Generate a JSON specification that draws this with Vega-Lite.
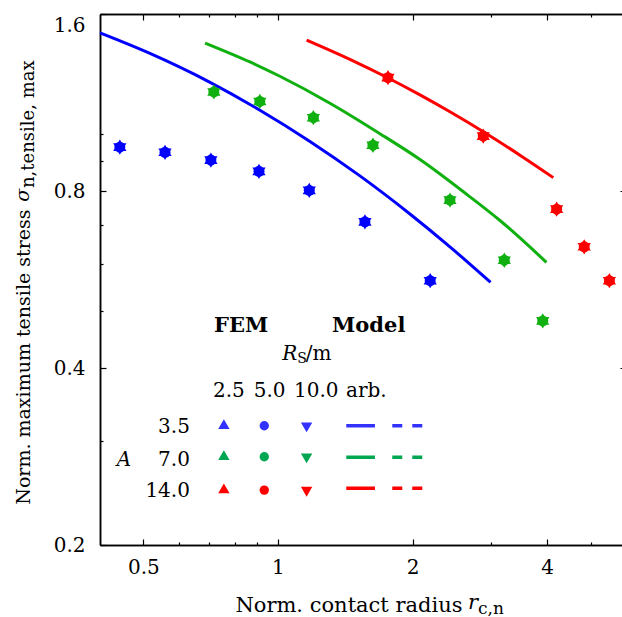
{
  "$schema": "https://vega.github.io/schema/vega-lite/v6.json",
  "width": 522,
  "height": 531,
  "autosize": {"type": "none"},
  "padding": {"left": 100, "top": 14, "right": 0, "bottom": 72},
  "background": "white",
  "config": {
    "font": "DejaVu Serif",
    "view": {"stroke": null},
    "axis": {
      "grid": false,
      "domainColor": "black",
      "domainWidth": 1.5,
      "tickColor": "black",
      "tickWidth": 1.2,
      "labelColor": "black",
      "titleColor": "black",
      "labelFont": "DejaVu Serif",
      "titleFont": "DejaVu Serif",
      "titleFontWeight": "normal",
      "labelFontSize": 20,
      "labelOverlap": false,
      "labelFlush": false
    }
  },
  "datasets": {
    "fem": [
      {"x": 0.443, "y": 0.950, "A": "3.5", "RS": "2.5"}, {"x": 0.443, "y": 0.950, "A": "3.5", "RS": "5.0"}, {"x": 0.443, "y": 0.950, "A": "3.5", "RS": "10.0"},
      {"x": 0.559, "y": 0.931, "A": "3.5", "RS": "2.5"}, {"x": 0.559, "y": 0.931, "A": "3.5", "RS": "5.0"}, {"x": 0.559, "y": 0.931, "A": "3.5", "RS": "10.0"},
      {"x": 0.708, "y": 0.903, "A": "3.5", "RS": "2.5"}, {"x": 0.708, "y": 0.903, "A": "3.5", "RS": "5.0"}, {"x": 0.708, "y": 0.903, "A": "3.5", "RS": "10.0"},
      {"x": 0.907, "y": 0.864, "A": "3.5", "RS": "2.5"}, {"x": 0.907, "y": 0.864, "A": "3.5", "RS": "5.0"}, {"x": 0.907, "y": 0.864, "A": "3.5", "RS": "10.0"},
      {"x": 1.175, "y": 0.802, "A": "3.5", "RS": "2.5"}, {"x": 1.175, "y": 0.802, "A": "3.5", "RS": "5.0"}, {"x": 1.175, "y": 0.802, "A": "3.5", "RS": "10.0"},
      {"x": 1.565, "y": 0.709, "A": "3.5", "RS": "2.5"}, {"x": 1.565, "y": 0.709, "A": "3.5", "RS": "5.0"}, {"x": 1.565, "y": 0.709, "A": "3.5", "RS": "10.0"},
      {"x": 2.19, "y": 0.563, "A": "3.5", "RS": "2.5"}, {"x": 2.19, "y": 0.563, "A": "3.5", "RS": "5.0"}, {"x": 2.19, "y": 0.563, "A": "3.5", "RS": "10.0"},
      {"x": 0.719, "y": 1.179, "A": "7.0", "RS": "2.5"}, {"x": 0.719, "y": 1.179, "A": "7.0", "RS": "5.0"}, {"x": 0.719, "y": 1.179, "A": "7.0", "RS": "10.0"},
      {"x": 0.911, "y": 1.136, "A": "7.0", "RS": "2.5"}, {"x": 0.911, "y": 1.136, "A": "7.0", "RS": "5.0"}, {"x": 0.911, "y": 1.136, "A": "7.0", "RS": "10.0"},
      {"x": 1.20, "y": 1.066, "A": "7.0", "RS": "2.5"}, {"x": 1.20, "y": 1.066, "A": "7.0", "RS": "5.0"}, {"x": 1.20, "y": 1.066, "A": "7.0", "RS": "10.0"},
      {"x": 1.631, "y": 0.957, "A": "7.0", "RS": "2.5"}, {"x": 1.631, "y": 0.957, "A": "7.0", "RS": "5.0"}, {"x": 1.631, "y": 0.957, "A": "7.0", "RS": "10.0"},
      {"x": 2.425, "y": 0.772, "A": "7.0", "RS": "2.5"}, {"x": 2.425, "y": 0.772, "A": "7.0", "RS": "5.0"}, {"x": 2.425, "y": 0.772, "A": "7.0", "RS": "10.0"},
      {"x": 3.207, "y": 0.610, "A": "7.0", "RS": "2.5"}, {"x": 3.207, "y": 0.610, "A": "7.0", "RS": "5.0"}, {"x": 3.207, "y": 0.610, "A": "7.0", "RS": "10.0"},
      {"x": 3.91, "y": 0.481, "A": "7.0", "RS": "2.5"}, {"x": 3.91, "y": 0.481, "A": "7.0", "RS": "5.0"}, {"x": 3.91, "y": 0.481, "A": "7.0", "RS": "10.0"},
      {"x": 1.762, "y": 1.247, "A": "14.0", "RS": "2.5"}, {"x": 1.762, "y": 1.247, "A": "14.0", "RS": "5.0"}, {"x": 1.762, "y": 1.247, "A": "14.0", "RS": "10.0"},
      {"x": 2.878, "y": 0.992, "A": "14.0", "RS": "2.5"}, {"x": 2.878, "y": 0.992, "A": "14.0", "RS": "5.0"}, {"x": 2.878, "y": 0.992, "A": "14.0", "RS": "10.0"},
      {"x": 4.20, "y": 0.745, "A": "14.0", "RS": "2.5"}, {"x": 4.20, "y": 0.745, "A": "14.0", "RS": "5.0"}, {"x": 4.20, "y": 0.745, "A": "14.0", "RS": "10.0"},
      {"x": 4.84, "y": 0.643, "A": "14.0", "RS": "2.5"}, {"x": 4.84, "y": 0.643, "A": "14.0", "RS": "5.0"}, {"x": 4.84, "y": 0.643, "A": "14.0", "RS": "10.0"},
      {"x": 5.51, "y": 0.563, "A": "14.0", "RS": "2.5"}, {"x": 5.51, "y": 0.563, "A": "14.0", "RS": "5.0"}, {"x": 5.51, "y": 0.563, "A": "14.0", "RS": "10.0"}
    ],
    "model": [
      {"x": 0.400, "y": 1.486, "A": "3.5"}, {"x": 0.5173, "y": 1.3712, "A": "3.5"}, {"x": 0.705, "y": 1.2245, "A": "3.5"}, {"x": 0.9115, "y": 1.0977, "A": "3.5"}, {"x": 1.1792, "y": 0.9714, "A": "3.5"}, {"x": 1.5254, "y": 0.8487, "A": "3.5"}, {"x": 1.9734, "y": 0.7311, "A": "3.5"}, {"x": 2.4246, "y": 0.6428, "A": "3.5"}, {"x": 2.987, "y": 0.5596, "A": "3.5"},
      {"x": 0.687, "y": 1.428, "A": "7.0"}, {"x": 0.8657, "y": 1.326, "A": "7.0"}, {"x": 1.010, "y": 1.2537, "A": "7.0"}, {"x": 1.307, "y": 1.1283, "A": "7.0"}, {"x": 1.691, "y": 1.0013, "A": "7.0"}, {"x": 2.078, "y": 0.905, "A": "7.0"}, {"x": 2.6607, "y": 0.7866, "A": "7.0"}, {"x": 3.1371, "y": 0.7127, "A": "7.0"}, {"x": 3.985, "y": 0.605, "A": "7.0"},
      {"x": 1.159, "y": 1.445, "A": "14.0"}, {"x": 1.4486, "y": 1.340, "A": "14.0"}, {"x": 1.750, "y": 1.249, "A": "14.0"}, {"x": 2.078, "y": 1.1655, "A": "14.0"}, {"x": 2.4246, "y": 1.0909, "A": "14.0"}, {"x": 2.879, "y": 1.009, "A": "14.0"}, {"x": 3.477, "y": 0.9204, "A": "14.0"}, {"x": 4.128, "y": 0.843, "A": "14.0"}
    ],
    "legSym": [
      {"x": 0.757, "y": 0.319, "A": "3.5", "RS": "2.5"}, {"x": 0.932, "y": 0.319, "A": "3.5", "RS": "5.0"}, {"x": 1.159, "y": 0.319, "A": "3.5", "RS": "10.0"},
      {"x": 0.757, "y": 0.2826, "A": "7.0", "RS": "2.5"}, {"x": 0.932, "y": 0.2826, "A": "7.0", "RS": "5.0"}, {"x": 1.159, "y": 0.2826, "A": "7.0", "RS": "10.0"},
      {"x": 0.757, "y": 0.248, "A": "14.0", "RS": "2.5"}, {"x": 0.932, "y": 0.248, "A": "14.0", "RS": "5.0"}, {"x": 1.159, "y": 0.248, "A": "14.0", "RS": "10.0"}
    ],
    "legLine": [
      {"x": 1.4216, "y": 0.319, "A": "3.5", "kind": "solid"}, {"x": 1.648, "y": 0.319, "A": "3.5", "kind": "solid"},
      {"x": 1.4216, "y": 0.282, "A": "7.0", "kind": "solid"}, {"x": 1.648, "y": 0.282, "A": "7.0", "kind": "solid"},
      {"x": 1.4216, "y": 0.2497, "A": "14.0", "kind": "solid"}, {"x": 1.648, "y": 0.2497, "A": "14.0", "kind": "solid"},
      {"x": 1.8016, "y": 0.319, "A": "3.5", "kind": "dashed"}, {"x": 2.1025, "y": 0.319, "A": "3.5", "kind": "dashed"},
      {"x": 1.8016, "y": 0.282, "A": "7.0", "kind": "dashed"}, {"x": 2.1025, "y": 0.282, "A": "7.0", "kind": "dashed"},
      {"x": 1.8016, "y": 0.2497, "A": "14.0", "kind": "dashed"}, {"x": 2.1025, "y": 0.2497, "A": "14.0", "kind": "dashed"}
    ],
    "legHead": [
      {"x": 0.8275, "y": 0.4611, "t": "FEM"}, {"x": 1.596, "y": 0.4611, "t": "Model"}
    ],
    "legCol": [
      {"x": 0.777, "y": 0.3574, "t": "2.5"}, {"x": 0.958, "y": 0.3574, "t": "5.0"}, {"x": 1.218, "y": 0.3574, "t": "10.0"}, {"x": 1.576, "y": 0.3574, "t": "arb."}
    ],
    "legRow": [
      {"x": 0.6355, "y": 0.3105, "t": "3.5"}, {"x": 0.6355, "y": 0.2722, "t": "7.0"}, {"x": 0.6355, "y": 0.2416, "t": "14.0"}
    ],
    "legA": [{"x": 0.4526, "y": 0.2722, "t": "A"}],
    "legR": [{"x": 1.1046, "y": 0.4126, "t": "R"}],
    "legS": [{"x": 1.1046, "y": 0.4074, "t": "S"}],
    "legM": [{"x": 1.1534, "y": 0.4126, "t": "/m"}],
    "ySym": [{"x": 0.2771, "y": 0.7672, "t": "σ"}],
    "ySub": [{"x": 0.2843, "y": 0.8095, "t": "n,tensile, max"}],
    "xSym": [{"x": 2.660, "y": 0.1557, "t": "r"}],
    "xSub": [{"x": 2.801, "y": 0.1527, "t": "c,n"}]
  },
  "layer": [
    {
      "data": {"name": "model"},
      "mark": {"type": "line", "strokeWidth": 3, "interpolate": "monotone"},
      "encoding": {
        "x": {"field": "x", "type": "quantitative", "scale": {"type": "log", "domain": [0.4, 5.88], "nice": false},
              "axis": {"orient": "top", "values": [0.5, 1, 2, 4], "labels": false, "tickSize": -6, "title": null}},
        "y": {"field": "y", "type": "quantitative", "scale": {"type": "log", "domain": [0.2, 1.6], "nice": false},
              "axis": {"orient": "right", "values": [0.2, 0.4, 0.8, 1.6], "labels": false, "tickSize": -2, "domain": false, "title": null}},
        "color": {"field": "A", "type": "nominal", "scale": {"domain": ["3.5", "7.0", "14.0"], "range": ["#0000ff", "#10b010", "#ff0000"]}, "legend": null}
      }
    },
    {
      "data": {"name": "fem"},
      "mark": {"type": "point", "filled": true, "opacity": 1, "strokeWidth": 0},
      "encoding": {
        "x": {"field": "x", "type": "quantitative",
              "axis": {"orient": "bottom", "values": [0.5, 1, 2, 4], "format": "~g", "tickSize": -6, "labelPadding": 18,
                       "title": "Norm. contact radius", "titleFontSize": 21, "titleX": 362, "titleY": 66, "titleAlign": "right", "titleBaseline": "alphabetic"}},
        "y": {"field": "y", "type": "quantitative",
              "axis": {"orient": "left", "values": [0.2, 0.4, 0.8, 1.6], "format": "~g", "tickSize": -6, "labelPadding": 21,
                       "labelOffset": {"condition": {"test": "datum.value > 1.5", "value": 11}, "value": 0},
                       "title": "Norm. maximum tensile stress", "titleFontSize": 19, "titleAngle": 270, "titleX": -71, "titleY": 195, "titleAlign": "right", "titleBaseline": "alphabetic"}},
        "color": {"field": "A", "type": "nominal", "legend": null},
        "shape": {"field": "RS", "type": "nominal", "scale": {"domain": ["2.5", "5.0", "10.0"], "range": ["M0,-1.155L1,0.577L-1,0.577Z", "circle", "M0,1.155L1,-0.577L-1,-0.577Z"]}, "legend": null},
        "size": {"field": "RS", "type": "nominal", "scale": {"type": "ordinal", "domain": ["2.5", "5.0", "10.0"], "range": [175, 120, 175]}, "legend": null}
      }
    },
    {
      "data": {"name": "legLine"},
      "mark": {"type": "line", "strokeWidth": 3.5},
      "encoding": {
        "x": {"field": "x", "type": "quantitative",
              "axis": {"orient": "top", "values": [0.6, 0.7, 0.8, 0.9, 3, 5], "labels": false, "tickSize": -3, "title": null}},
        "y": {"field": "y", "type": "quantitative", "axis": null},
        "stroke": {"field": "A", "type": "nominal", "scale": {"domain": ["3.5", "7.0", "14.0"], "range": ["#3333ff", "#00a651", "#ff0000"]}, "legend": null},
        "strokeDash": {"field": "kind", "type": "nominal", "scale": {"domain": ["solid", "dashed"], "range": [[1, 0], [10, 10]]}, "legend": null},
        "detail": {"field": "kind"}
      }
    },
    {
      "data": {"name": "legSym"},
      "mark": {"type": "point", "filled": true, "opacity": 1, "strokeWidth": 0},
      "encoding": {
        "x": {"field": "x", "type": "quantitative",
              "axis": {"orient": "bottom", "values": [0.6, 0.7, 0.8, 0.9, 3, 5], "labels": false, "tickSize": -3, "title": null}},
        "y": {"field": "y", "type": "quantitative",
              "axis": {"orient": "left", "values": [0.3, 0.5, 0.6, 0.7, 0.9, 1.0], "labels": false, "tickSize": -3, "title": null}},
        "fill": {"field": "A", "type": "nominal", "scale": {"domain": ["3.5", "7.0", "14.0"], "range": ["#3333ff", "#00a651", "#ff0000"]}, "legend": null},
        "shape": {"field": "RS", "type": "nominal", "scale": {"domain": ["2.5", "5.0", "10.0"], "range": ["M0,-1.155L1,0.577L-1,0.577Z", "circle", "M0,1.155L1,-0.577L-1,-0.577Z"]}, "legend": null},
        "size": {"field": "RS", "type": "nominal", "scale": {"type": "ordinal", "domain": ["2.5", "5.0", "10.0"], "range": [130, 88, 130]}, "legend": null}
      }
    },
    {
      "data": {"name": "legHead"},
      "mark": {"type": "text", "fontSize": 21, "fontWeight": "bold", "align": "center", "baseline": "alphabetic", "color": "black"},
      "encoding": {"x": {"field": "x", "type": "quantitative", "axis": null}, "y": {"field": "y", "type": "quantitative", "axis": null}, "text": {"field": "t"}}
    },
    {
      "data": {"name": "legCol"},
      "mark": {"type": "text", "fontSize": 20, "align": "center", "baseline": "alphabetic", "color": "black"},
      "encoding": {"x": {"field": "x", "type": "quantitative", "axis": null}, "y": {"field": "y", "type": "quantitative", "axis": null}, "text": {"field": "t"}}
    },
    {
      "data": {"name": "legRow"},
      "mark": {"type": "text", "fontSize": 20, "align": "right", "baseline": "alphabetic", "color": "black"},
      "encoding": {"x": {"field": "x", "type": "quantitative", "axis": null}, "y": {"field": "y", "type": "quantitative", "axis": null}, "text": {"field": "t"}}
    },
    {
      "data": {"name": "legA"},
      "mark": {"type": "text", "fontSize": 20, "fontStyle": "italic", "align": "center", "baseline": "alphabetic", "color": "black"},
      "encoding": {"x": {"field": "x", "type": "quantitative", "axis": null}, "y": {"field": "y", "type": "quantitative", "axis": null}, "text": {"field": "t"}}
    },
    {
      "data": {"name": "legR"},
      "mark": {"type": "text", "fontSize": 20, "fontStyle": "italic", "align": "right", "baseline": "alphabetic", "color": "black"},
      "encoding": {"x": {"field": "x", "type": "quantitative", "axis": null}, "y": {"field": "y", "type": "quantitative", "axis": null}, "text": {"field": "t"}}
    },
    {
      "data": {"name": "legS"},
      "mark": {"type": "text", "fontSize": 14, "align": "left", "baseline": "alphabetic", "color": "black"},
      "encoding": {"x": {"field": "x", "type": "quantitative", "axis": null}, "y": {"field": "y", "type": "quantitative", "axis": null}, "text": {"field": "t"}}
    },
    {
      "data": {"name": "legM"},
      "mark": {"type": "text", "fontSize": 20, "align": "left", "baseline": "alphabetic", "color": "black"},
      "encoding": {"x": {"field": "x", "type": "quantitative", "axis": null}, "y": {"field": "y", "type": "quantitative", "axis": null}, "text": {"field": "t"}}
    },
    {
      "data": {"name": "ySym"},
      "mark": {"type": "text", "fontSize": 19, "fontStyle": "italic", "angle": 270, "align": "left", "baseline": "alphabetic", "color": "black"},
      "encoding": {"x": {"field": "x", "type": "quantitative", "axis": null}, "y": {"field": "y", "type": "quantitative", "axis": null}, "text": {"field": "t"}}
    },
    {
      "data": {"name": "ySub"},
      "mark": {"type": "text", "fontSize": 18, "angle": 270, "align": "left", "baseline": "alphabetic", "color": "black"},
      "encoding": {"x": {"field": "x", "type": "quantitative", "axis": null}, "y": {"field": "y", "type": "quantitative", "axis": null}, "text": {"field": "t"}}
    },
    {
      "data": {"name": "xSym"},
      "mark": {"type": "text", "fontSize": 21, "fontStyle": "italic", "align": "left", "baseline": "alphabetic", "color": "black"},
      "encoding": {"x": {"field": "x", "type": "quantitative", "axis": null}, "y": {"field": "y", "type": "quantitative", "axis": null}, "text": {"field": "t"}}
    },
    {
      "data": {"name": "xSub"},
      "mark": {"type": "text", "fontSize": 17, "align": "left", "baseline": "alphabetic", "color": "black"},
      "encoding": {"x": {"field": "x", "type": "quantitative", "axis": null}, "y": {"field": "y", "type": "quantitative", "axis": null}, "text": {"field": "t"}}
    }
  ],
  "resolve": {"axis": {"x": "independent", "y": "independent"}, "scale": {"size": "independent"}}
}
